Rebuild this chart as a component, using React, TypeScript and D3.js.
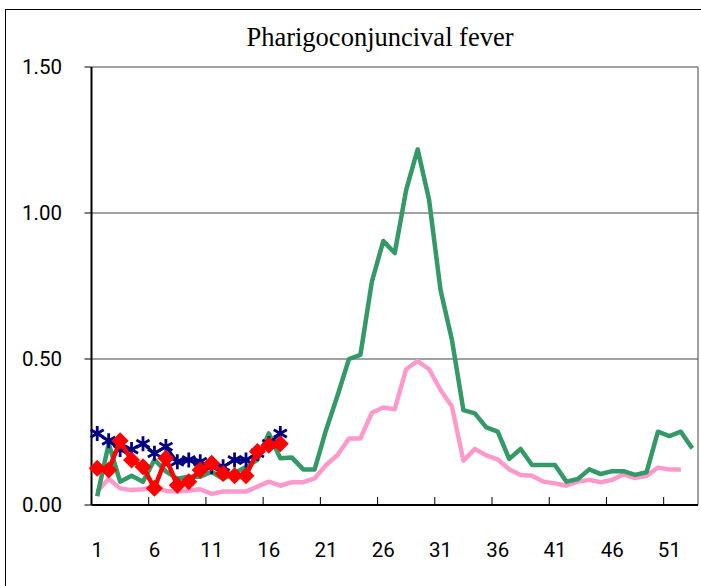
import React from "react";
import * as d3 from "d3";

// weekly values, weeks 1..53
const weeks = d3.range(1, 54);
const prevYear = [0.03, 0.21, 0.08, 0.10, 0.08, 0.155, 0.115, 0.09, 0.097, 0.097, 0.114, 0.09, 0.11, 0.13, 0.155, 0.245, 0.16, 0.163, 0.122, 0.122,
  0.257, 0.375, 0.50, 0.514, 0.765, 0.904, 0.863, 1.079, 1.218, 1.045, 0.736, 0.565, 0.325, 0.314, 0.266, 0.251, 0.158, 0.192, 0.137, 0.137,
  0.137, 0.08, 0.089, 0.122, 0.106, 0.116, 0.116, 0.103, 0.112, 0.251, 0.236, 0.251, 0.194];
const avgYears = [0.046, 0.09, 0.057, 0.051, 0.054, 0.062, 0.048, 0.046, 0.05, 0.054, 0.038, 0.046, 0.046, 0.046, 0.063, 0.08, 0.066, 0.078, 0.078, 0.091,
  0.137, 0.171, 0.228, 0.228, 0.316, 0.334, 0.328, 0.465, 0.493, 0.465, 0.394, 0.337, 0.152, 0.192, 0.170, 0.156, 0.122, 0.103, 0.10, 0.08,
  0.074, 0.066, 0.08, 0.086, 0.078, 0.086, 0.105, 0.092, 0.10, 0.128, 0.122, 0.122];
const lastYear = [0.245, 0.22, 0.19, 0.19, 0.21, 0.177, 0.20, 0.148, 0.154, 0.148, 0.131, 0.131, 0.154, 0.154, 0.177, 0.21, 0.245];
const thisYear = [0.126, 0.12, 0.22, 0.154, 0.131, 0.057, 0.16, 0.068, 0.08, 0.12, 0.143, 0.108, 0.10, 0.10, 0.183, 0.205, 0.21];
const xLabels = [1, 6, 11, 16, 21, 26, 31, 36, 41, 46, 51];
const yTicks = [0, 0.5, 1, 1.5];

const left = 91.5, right = 698, top = 67, bottom = 505;

export default function App() {
  const x = d3.scaleBand<number>().domain(weeks).range([left, right]).padding(0);
  const y = d3.scaleLinear().domain([0, 1.5]).range([bottom, top]);
  const cx = (w: number) => (x(w) as number) + x.bandwidth() / 2;
  const line = d3.line<number>().x((_, i) => cx(i + 1)).y((d) => y(d));
  const numFont = "Roboto, 'Liberation Sans', sans-serif";

  const star = (px: number, py: number) => {
    const r = 7.5;
    const d = r * 0.87;
    return `M${px},${py - r}L${px},${py + r}M${px - d},${py - r / 2}L${px + d},${py + r / 2}M${px - d},${py + r / 2}L${px + d},${py - r / 2}`;
  };
  const diamond = (px: number, py: number) => {
    const r = 8.5;
    return `M${px},${py - r}L${px + r},${py}L${px},${py + r}L${px - r},${py}Z`;
  };

  return (
    <svg width={701} height={586} style={{ position: "absolute", left: 0, top: 0, background: "#fff" }}>
      <rect x={5.5} y={9.5} width={720} height={600} fill="#fff" stroke="#000" strokeWidth={1} />
      <text x={380} y={46} textAnchor="middle" fontFamily="'Liberation Serif', 'DejaVu Serif', serif" fontSize={26.5}>
        Pharigoconjuncival fever
      </text>

      {/* plot frame */}
      <line x1={left} x2={right} y1={top} y2={top} stroke="#808080" strokeWidth={1.5} />
      <line x1={right} x2={right} y1={top} y2={bottom} stroke="#808080" strokeWidth={1.5} />
      {[0.5, 1].map((v) => (
        <line key={v} x1={left} x2={right} y1={y(v)} y2={y(v)} stroke="#444" strokeWidth={1} />
      ))}

      {/* y axis */}
      <line x1={left} x2={left} y1={top} y2={bottom} stroke="#000" strokeWidth={2} />
      {yTicks.map((v) => (
        <g key={v}>
          <line x1={left - 7} x2={left} y1={y(v)} y2={y(v)} stroke="#000" strokeWidth={1} />
          <text x={62} y={y(v)} dy="0.36em" textAnchor="end" fontFamily={numFont} fontSize={20.5}
            textLength={40} lengthAdjust="spacingAndGlyphs">{v.toFixed(2)}</text>
        </g>
      ))}

      {/* x axis */}
      <line x1={left} x2={right} y1={bottom} y2={bottom} stroke="#000" strokeWidth={2} />
      {d3.range(5, 53, 5).map((w) => (
        <line key={w} x1={(x(w) as number) + x.bandwidth()} x2={(x(w) as number) + x.bandwidth()} y1={bottom} y2={bottom - 8} stroke="#000" strokeWidth={1} />
      ))}
      {xLabels.map((w) => (
        <text key={w} x={cx(w)} y={557} textAnchor="middle" fontFamily={numFont} fontSize={20.5}>{w}</text>
      ))}

      {/* series */}
      <path d={line(avgYears) ?? ""} fill="none" stroke="#FF99CC" strokeWidth={4.5} strokeLinejoin="round" />
      <path d={line(prevYear) ?? ""} fill="none" stroke="#339966" strokeWidth={4.5} strokeLinejoin="round" />
      <path d={line(lastYear) ?? ""} fill="none" stroke="#000080" strokeWidth={3} />
      {lastYear.map((v, i) => (
        <path key={i} d={star(cx(i + 1), y(v))} stroke="#000080" strokeWidth={2.8} fill="none" />
      ))}
      <path d={line(thisYear) ?? ""} fill="none" stroke="#FF0000" strokeWidth={4.5} />
      {thisYear.map((v, i) => (
        <path key={i} d={diamond(cx(i + 1), y(v))} fill="#FF0000" />
      ))}
    </svg>
  );
}
